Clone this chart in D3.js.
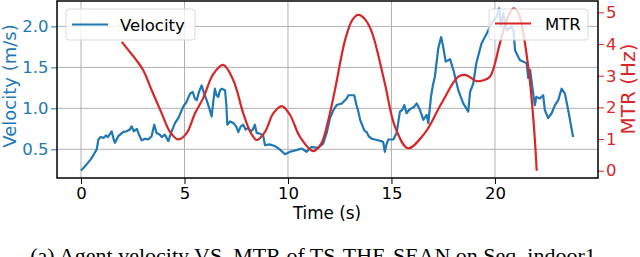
<!DOCTYPE html>
<html>
<head>
<meta charset="utf-8">
<script src="https://cdn.jsdelivr.net/npm/d3@7"></script>
<style>
  body { margin: 0; background: #fff; }
  svg { display: block; font-family: "DejaVu Sans", sans-serif; }
</style>
</head>
<body>
<div id="main"></div>
<script>
// velocity samples (time s, m/s)
var velTime = [0.0,0.25,0.48,0.62,0.76,0.84,0.95,1.1,1.2,1.3,1.48,1.58,1.64,1.8,2.03,2.2,2.35,2.45,2.55,2.7,2.8,2.93,3.1,3.25,3.41,3.54,3.65,3.8,3.9,4.05,4.22,4.35,4.54,4.7,4.94,5.1,5.27,5.4,5.5,5.59,5.7,5.83,5.95,6.07,6.2,6.31,6.4,6.47,6.55,6.63,6.72,6.8,6.96,7.02,7.07,7.2,7.36,7.5,7.6,7.72,7.84,7.95,8.08,8.2,8.3,8.4,8.49,8.65,8.8,8.89,9.1,9.37,9.6,9.86,10.1,10.4,10.66,10.9,11.14,11.3,11.47,11.7,11.87,12.03,12.2,12.35,12.6,12.84,12.92,13.2,13.3,13.4,13.5,13.64,13.72,13.8,13.9,14.04,14.2,14.36,14.5,14.6,14.68,14.75,14.85,15.09,15.25,15.41,15.52,15.62,15.73,15.85,15.97,16.1,16.22,16.38,16.54,16.7,16.78,16.91,17.0,17.1,17.26,17.4,17.5,17.62,17.83,17.99,18.23,18.47,18.71,18.8,18.95,19.1,19.35,19.6,19.84,20.08,20.2,20.3,20.4,20.57,20.8,20.9,20.97,21.2,21.37,21.53,21.61,21.7,21.85,21.93,22.0,22.17,22.33,22.41,22.57,22.74,22.9,23.06,23.22,23.38,23.54,23.71,23.78];
var velValue = [0.24,0.31,0.38,0.44,0.50,0.62,0.65,0.64,0.67,0.65,0.72,0.62,0.58,0.66,0.71,0.72,0.74,0.78,0.72,0.75,0.68,0.61,0.63,0.62,0.66,0.80,0.70,0.68,0.65,0.68,0.60,0.70,0.82,0.88,1.02,1.08,1.18,1.20,1.12,1.10,1.20,1.28,1.18,1.10,1.00,0.90,1.10,1.24,1.16,1.14,1.22,1.24,1.22,1.05,0.80,0.84,0.82,0.78,0.71,0.78,0.80,0.74,0.76,0.72,0.74,0.80,0.70,0.69,0.67,0.55,0.56,0.54,0.50,0.44,0.47,0.49,0.51,0.47,0.53,0.52,0.52,0.57,0.70,0.88,0.98,1.04,1.06,1.12,1.16,1.16,1.05,0.96,0.85,0.76,0.72,0.71,0.66,0.63,0.62,0.61,0.60,0.59,0.47,0.55,0.62,0.62,0.70,0.96,0.98,1.04,0.94,0.98,1.00,1.02,1.06,0.98,0.86,0.92,0.82,1.14,1.28,1.39,1.73,1.87,1.75,1.57,1.60,1.47,1.22,1.06,0.96,1.20,1.30,1.55,1.79,1.91,2.04,2.12,2.22,2.00,2.16,1.95,2.00,1.95,1.71,1.59,1.57,1.55,1.37,1.47,1.18,1.04,1.14,1.12,1.16,0.98,0.88,0.94,1.04,1.10,1.24,1.18,0.98,0.74,0.65];

// MTR samples (time s, Hz)
var mtrTime = [1.97,2.3,2.61,3.0,3.41,3.9,4.3,4.7,5.1,5.5,5.91,6.39,6.87,7.36,7.84,8.2,8.49,8.89,9.29,9.7,10.1,10.58,11.22,11.6,11.95,12.27,12.75,13.1,13.4,13.7,14.04,14.68,15.17,15.8,16.6,17.42,18.23,18.6,19.1,19.4,19.76,20.24,20.57,20.9,21.14,21.37,21.61,21.78,21.93,22.02];
var mtrValue = [4.07,3.8,3.55,3.18,2.55,1.81,1.23,0.99,1.18,1.8,2.3,3.05,3.34,2.86,1.81,1.2,0.97,1.23,1.81,2.04,1.76,1.07,0.62,0.85,1.6,2.55,4.1,4.75,4.92,4.8,4.4,2.76,1.39,0.71,1.18,2.13,2.97,3.02,2.83,2.85,2.97,4.02,4.76,5.13,4.97,4.34,3.28,2.23,0.97,0.0];

var timeTicks = [0, 5, 10, 15, 20];
var velTicks = [0.5, 1.0, 1.5, 2.0];
var mtrTicks = [0, 1, 2, 3, 4, 5];

var blue = "#1f77b4", red = "#d62728";
var width = 640, height = 257;
var plotL = 57, plotR = 598, plotT = 1, plotB = 178;

var svg = d3.select("#main").append("svg")
  .attr("width", width)
  .attr("height", height);

var x = d3.scaleLinear().domain([-1.16, 24.98]).range([plotL, plotR]);
var yVel = d3.scaleLinear().domain([0.15, 2.31]).range([plotB, plotT]);
var yMtr = d3.scaleLinear().domain([-0.23, 5.36]).range([plotB, plotT]);

// grid
svg.append("g").selectAll("line").data(timeTicks).enter().append("line")
  .attr("x1", function (d) { return x(d); }).attr("x2", function (d) { return x(d); })
  .attr("y1", plotT).attr("y2", plotB)
  .attr("stroke", "#b0b0b0").attr("stroke-width", 1);
svg.append("g").selectAll("line").data(velTicks).enter().append("line")
  .attr("x1", plotL).attr("x2", plotR)
  .attr("y1", function (d) { return yVel(d); }).attr("y2", function (d) { return yVel(d); })
  .attr("stroke", "#b0b0b0").attr("stroke-width", 1);

var velLine = d3.line()
  .x(function (d, i) { return x(velTime[i]); })
  .y(function (d) { return yVel(d); });
svg.append("path")
  .attr("d", velLine(velValue))
  .attr("fill", "none").attr("stroke", blue).attr("stroke-width", 2.2)
  .attr("stroke-linejoin", "round");

// axes
function styleAxis(g, color) {
  g.select(".domain").remove();
  g.selectAll(".tick line").attr("stroke", color).attr("stroke-width", 1);
  g.selectAll(".tick text").attr("fill", color).style("font-size", "16.5px")
    .style("font-family", "DejaVu Sans");
}

var gx = svg.append("g").attr("transform", "translate(0," + plotB + ")")
  .call(d3.axisBottom(x).tickValues(timeTicks).tickSize(6).tickPadding(3.5).tickFormat(d3.format("d")));
styleAxis(gx, "#000");

var gl = svg.append("g").attr("transform", "translate(" + plotL + ",0)")
  .call(d3.axisLeft(yVel).tickValues(velTicks).tickSize(6).tickPadding(2.5).tickFormat(d3.format(".1f")));
styleAxis(gl, blue);

var gr = svg.append("g").attr("transform", "translate(" + plotR + ",0)")
  .call(d3.axisRight(yMtr).tickValues(mtrTicks).tickSize(6).tickPadding(2).tickFormat(d3.format("d")));
styleAxis(gr, red);

// velocity legend
var leg1 = svg.append("g");
leg1.append("rect").attr("x", 66).attr("y", 9).attr("width", 129).attr("height", 31)
  .attr("rx", 3).attr("fill", "#fff").attr("fill-opacity", 0.8).attr("stroke", "#d8d8d8");
leg1.append("line").attr("x1", 72).attr("x2", 108).attr("y1", 24.5).attr("y2", 24.5)
  .attr("stroke", blue).attr("stroke-width", 2.2);
leg1.append("text").attr("x", 120).attr("y", 30.5).style("font-size", "16.5px").text("Velocity");

var mtrLine = d3.line()
  .x(function (d, i) { return x(mtrTime[i]); })
  .y(function (d) { return yMtr(d); })
  .curve(d3.curveCatmullRom.alpha(0.5));
svg.append("path")
  .attr("d", mtrLine(mtrValue))
  .attr("fill", "none").attr("stroke", red).attr("stroke-width", 2.2);

// MTR legend
var leg2 = svg.append("g");
leg2.append("rect").attr("x", 489).attr("y", 9).attr("width", 99).attr("height", 31)
  .attr("rx", 3).attr("fill", "#fff").attr("fill-opacity", 0.8).attr("stroke", "#d8d8d8");
leg2.append("line").attr("x1", 495).attr("x2", 531).attr("y1", 23.5).attr("y2", 23.5)
  .attr("stroke", red).attr("stroke-width", 2.2);
leg2.append("text").attr("x", 545).attr("y", 30).style("font-size", "16.5px").text("MTR");

// frame
svg.append("rect").attr("x", plotL).attr("y", plotT).attr("width", plotR - plotL).attr("height", plotB - plotT)
  .attr("fill", "none").attr("stroke", "#000").attr("stroke-width", 1.5);

// axis titles
svg.append("text").attr("x", 327).attr("y", 219).attr("text-anchor", "middle")
  .style("font-size", "16.8px").text("Time (s)");
svg.append("text").attr("transform", "translate(15.5,86) rotate(-90)")
  .attr("text-anchor", "middle").attr("fill", blue).style("font-size", "18px").text("Velocity (m/s)");
svg.append("text").attr("transform", "translate(635,89) rotate(-90)")
  .attr("text-anchor", "middle").attr("fill", red).style("font-size", "20px").text("MTR (Hz)");

// caption (cut by the image edge)
svg.append("text").attr("x", 313).attr("y", 262.5).attr("text-anchor", "middle")
  .style("font-family", "Liberation Serif, serif").style("font-size", "22px")
  .text("(a) Agent velocity VS. MTR of TS-THE-SEAN on Seq. indoor1");
</script>
</body>
</html>
